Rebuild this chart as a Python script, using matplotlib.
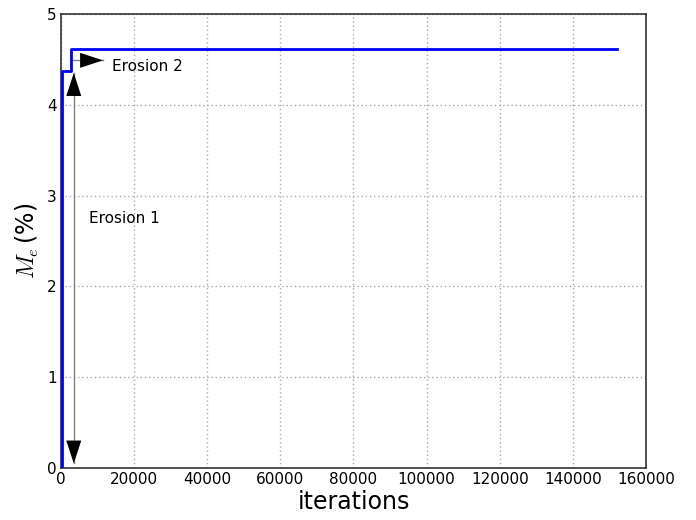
import numpy as np
import matplotlib
matplotlib.use("Agg")
import matplotlib.pyplot as plt

plt.rcParams['mathtext.fontset'] = 'cm'

# mass eroded vs iterations (step curve)
iters = [0, 200, 200, 2700, 2700, 152000]
mass = [0.0, 0.0, 4.37, 4.37, 4.62, 4.62]

fig = plt.figure(figsize=(6.96, 5.2), dpi=100)
ax = fig.add_axes([0.0876, 0.1, 0.8405, 0.873])

ax.plot(iters, mass, color='#0000ff', lw=2, zorder=3)

head = '-|>,head_length=0.55,head_width=0.18'


def arrow(x0, y0, x1, y1, heads):
    # gray shaft, black triangular heads
    ax.plot([x0, x1], [y0, y1], color='gray', lw=1, zorder=2)
    for (hx, hy), (tx, ty) in heads:
        ax.annotate('', xy=(hx, hy), xytext=(tx, ty),
                    arrowprops=dict(arrowstyle=head, color='black', lw=0,
                                    mutation_scale=30, shrinkA=0, shrinkB=0))


arrow(3500, 0.05, 3500, 4.35,
      [((3500, 0.05), (3500, 0.5)), ((3500, 4.35), (3500, 3.9))])
arrow(2700, 4.49, 11500, 4.49, [((11500, 4.49), (7000, 4.49))])

ax.text(7600, 2.75, 'Erosion 1', fontsize=11, va='center')
ax.text(14000, 4.42, 'Erosion 2', fontsize=11, va='center')

ax.set_xlim(0, 160000)
ax.set_ylim(0, 5)
ax.set_xticks(np.arange(0, 160001, 20000))
ax.set_yticks(np.arange(0, 6, 1))
ax.tick_params(length=0, labelsize=11, pad=3)
for s in ax.spines.values():
    s.set_color('#333333')
    s.set_linewidth(1.2)
ax.grid(True, linestyle=(0, (1, 2)), color='#aaaaaa', lw=1)
ax.set_xlabel('iterations', fontsize=17, labelpad=2)
ax.set_ylabel(r'$M_e\,$(%)', fontsize=17, labelpad=4)

fig.savefig('out.png', dpi=100)
